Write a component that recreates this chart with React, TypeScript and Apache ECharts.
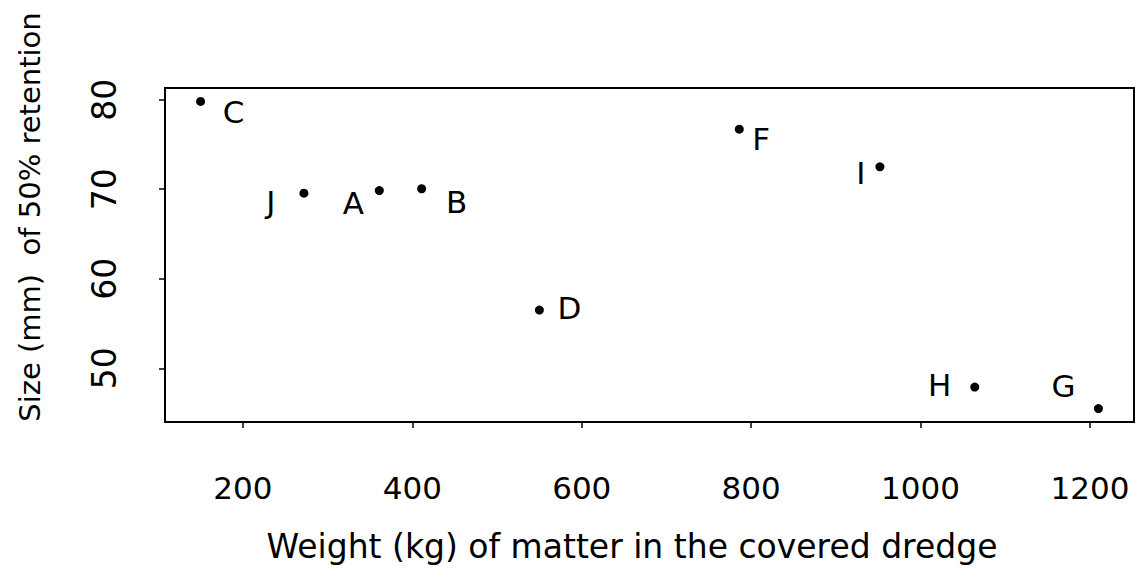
import React, { useEffect, useRef } from "react";
import * as echarts from "echarts";

const pointNames = ["C", "J", "A", "B", "D", "F", "I", "H", "G"];
const weightKg = [150, 272, 361, 411, 550, 786, 952, 1064, 1210];
const sizeMm = [79.8, 69.55, 69.85, 70.05, 56.5, 76.7, 72.5, 47.9, 45.5];
const xTicks = [200, 400, 600, 800, 1000, 1200];
const yTicks = [50, 60, 70, 80];
const xTitle = "Weight (kg) of matter in the covered dredge";
const yTitle = "Size (mm)  of 50% retention";

// label placement relative to each dot (styling only)
const labelOffsets: Record<string, [number, number]> = {
  C: [33, 11],
  J: [-33, 9],
  A: [-26, 12],
  B: [35, 13],
  D: [30, -2],
  F: [22, 10],
  I: [-19, 6],
  H: [-35, -2],
  G: [-35, -23],
};

const FONT = "DejaVu Sans";

export default function App() {
  const ref = useRef<HTMLDivElement>(null);
  useEffect(() => {
    if (!ref.current) return;
    const chart = echarts.init(ref.current, undefined, { renderer: "svg" });
    const data = pointNames.map((n, i) => ({
      name: n,
      value: [weightKg[i], sizeMm[i]],
      label: { offset: labelOffsets[n] },
    }));
    chart.setOption({
      animation: false,
      backgroundColor: "#ffffff",
      grid: {
        left: 165,
        top: 88,
        width: 969,
        height: 334,
        show: true,
        borderColor: "#000",
        borderWidth: 2,
        backgroundColor: "transparent",
      },
      xAxis: {
        type: "value",
        min: 108,
        max: 1252,
        splitLine: { show: false },
        axisLine: { show: false },
        axisTick: {
          show: true,
          customValues: xTicks,
          length: 6,
          lineStyle: { color: "#000", width: 1.5 },
        },
        axisLabel: {
          customValues: xTicks,
          formatter: (v: number) => String(v),
          margin: 50,
          fontSize: 31,
          fontFamily: FONT,
          color: "#000",
        },
      },
      yAxis: {
        type: "value",
        min: 44,
        max: 81.3,
        splitLine: { show: false },
        axisLine: { show: false },
        axisTick: {
          show: true,
          customValues: yTicks,
          length: 6,
          lineStyle: { color: "#000", width: 1.5 },
        },
        axisLabel: {
          customValues: yTicks,
          formatter: (v: number) => String(v),
          rotate: 90,
          margin: 44,
          fontSize: 33,
          fontFamily: FONT,
          color: "#000",
        },
      },
      series: [
        {
          type: "scatter",
          data,
          symbol: "circle",
          symbolSize: 9,
          itemStyle: { color: "#000", opacity: 1 },
          label: {
            show: true,
            position: "inside",
            formatter: "{b}",
            color: "#000",
            fontSize: 31,
            fontFamily: FONT,
          },
        },
      ],
      graphic: [
        {
          type: "text",
          x: 632,
          y: 546,
          style: {
            text: xTitle,
            fontSize: 33,
            fontFamily: FONT,
            fill: "#000",
            align: "center",
            verticalAlign: "middle",
          },
        },
        {
          type: "text",
          x: 30,
          y: 217,
          rotation: Math.PI / 2,
          style: {
            text: yTitle,
            fontSize: 29,
            fontFamily: FONT,
            fill: "#000",
            align: "center",
            verticalAlign: "middle",
          },
        },
      ],
    });
    return () => chart.dispose();
  }, []);
  return (
    <div
      ref={ref}
      style={{ position: "fixed", left: 0, top: 0, width: 1140, height: 583 }}
    />
  );
}
